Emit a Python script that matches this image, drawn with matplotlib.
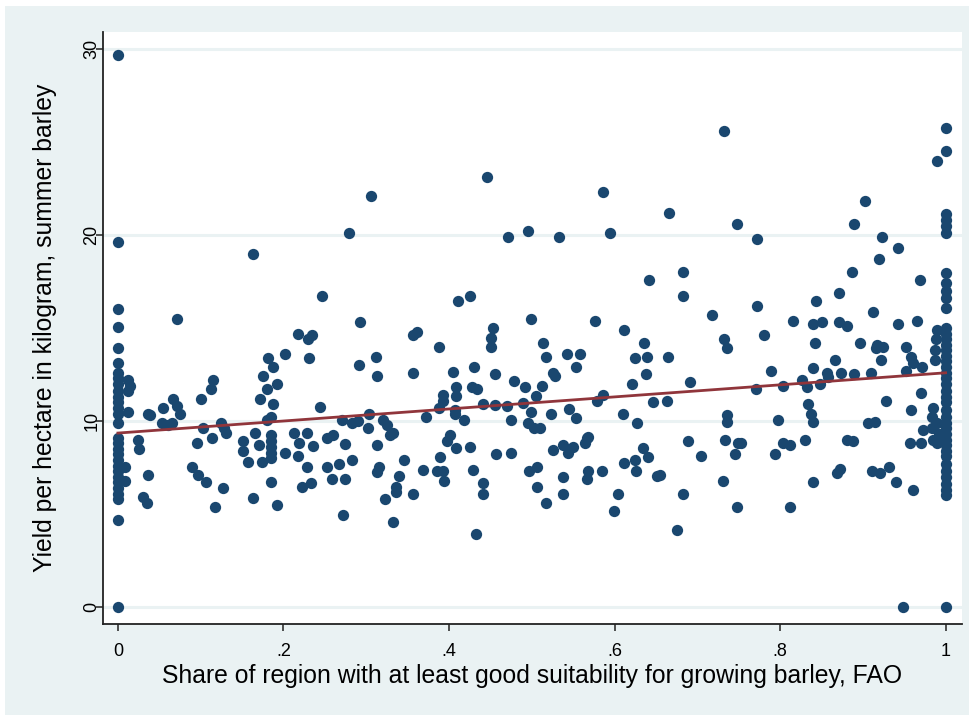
#spridningsdiagram: skörd mot andel lämplig mark, med linjär anpassning
import numpy as np
import matplotlib
matplotlib.use("Agg")
import matplotlib.pyplot as plt
from matplotlib.patches import Rectangle
from matplotlib import font_manager

#skörd för regioner med andel exakt 0 och exakt 1
yield_share0 = [29.7, 19.6, 16.0, 15.05, 13.9, 13.1, 12.6, 12.3, 12.0, 11.6, 11.3, 11.0, 10.7, 10.4,
                9.9, 9.1, 8.8, 8.5, 8.2, 7.9, 7.6, 7.3, 7.0, 6.7, 6.4, 6.1, 5.8, 4.7, 0.0]
yield_share1 = [25.75, 24.5, 21.1, 20.8, 20.5, 20.1, 17.95, 17.4, 17.0, 16.6, 16.1, 15.0, 14.7, 14.4,
                14.1, 13.8, 13.5, 13.2, 12.9, 12.6, 12.3, 12.0, 11.6, 11.3, 11.0, 10.6, 10.2, 9.9,
                9.6, 9.3, 9.0, 8.7, 8.4, 8.1, 7.7, 7.3, 7.0, 6.6, 6.3, 6.0, 0.0]

#övriga regioner (andel, skörd), uppdelade efter andel
pts_a = [(0.012, 12.2), (0.015, 11.9), (0.012, 11.6), (0.012, 10.5), (0.024, 9.0), (0.025, 8.5),
         (0.008, 7.5), (0.008, 6.8), (0.036, 7.1), (0.030, 5.9), (0.035, 5.6), (0.036, 10.4),
         (0.039, 10.3), (0.054, 10.7), (0.053, 9.9), (0.060, 9.8), (0.065, 9.9), (0.067, 11.2),
         (0.072, 10.8), (0.075, 10.4), (0.072, 15.5), (0.100, 11.2), (0.112, 11.7), (0.115, 12.2),
         (0.103, 9.6), (0.095, 8.8), (0.114, 9.1), (0.125, 9.9), (0.128, 9.6), (0.131, 9.35),
         (0.090, 7.5), (0.097, 7.1), (0.107, 6.7), (0.127, 6.4), (0.117, 5.4), (0.151, 8.9),
         (0.151, 8.4), (0.166, 9.35), (0.170, 8.7), (0.157, 7.8), (0.174, 7.8), (0.185, 9.25),
         (0.185, 8.9), (0.185, 8.6), (0.185, 8.3), (0.185, 8.0), (0.185, 6.7), (0.163, 5.85),
         (0.192, 5.5), (0.181, 13.4), (0.187, 12.9), (0.175, 12.4), (0.180, 11.7), (0.192, 12.0),
         (0.172, 11.2), (0.187, 10.9), (0.185, 10.2), (0.180, 10.05), (0.202, 13.6), (0.218, 14.7),
         (0.230, 14.4), (0.234, 14.6), (0.231, 13.4), (0.213, 9.35), (0.228, 9.35), (0.219, 8.8),
         (0.202, 8.3), (0.218, 8.1), (0.236, 8.65), (0.228, 7.5), (0.223, 6.45), (0.233, 6.65),
         (0.244, 10.75), (0.163, 19.0), (0.246, 16.7)]
pts_b = [(0.446, 23.1), (0.306, 22.1), (0.279, 20.1), (0.471, 19.9), (0.495, 20.2), (0.411, 16.45),
         (0.425, 16.7), (0.292, 15.3), (0.356, 14.6), (0.361, 14.8), (0.453, 15.0), (0.388, 14.0),
         (0.451, 14.45), (0.451, 14.0), (0.291, 13.0), (0.312, 13.45), (0.313, 12.4), (0.356, 12.6),
         (0.405, 12.65), (0.430, 12.9), (0.456, 12.5), (0.478, 12.15), (0.393, 11.4), (0.393, 11.1),
         (0.408, 11.8), (0.408, 11.35), (0.428, 11.8), (0.434, 11.7), (0.303, 10.4), (0.271, 10.05),
         (0.283, 9.9), (0.290, 10.0), (0.302, 9.6), (0.320, 10.05), (0.325, 9.8), (0.329, 9.25),
         (0.332, 9.35), (0.372, 10.2), (0.388, 10.7), (0.407, 10.6), (0.407, 10.4), (0.418, 10.05),
         (0.441, 10.9), (0.456, 10.85), (0.470, 10.8), (0.475, 10.05), (0.253, 9.1), (0.260, 9.25),
         (0.274, 8.75), (0.313, 8.7), (0.398, 8.9), (0.401, 9.25), (0.408, 8.55), (0.425, 8.6),
         (0.457, 8.2), (0.475, 8.3), (0.253, 7.5), (0.267, 7.7), (0.283, 7.9), (0.259, 6.9),
         (0.274, 6.9), (0.313, 7.25), (0.315, 7.5), (0.346, 7.9), (0.340, 7.05), (0.336, 6.45),
         (0.336, 6.2), (0.323, 5.8), (0.356, 6.1), (0.332, 4.55), (0.272, 4.95), (0.369, 7.35),
         (0.385, 7.3), (0.393, 7.3), (0.394, 6.75), (0.389, 8.05), (0.429, 7.35), (0.441, 6.65),
         (0.441, 6.1), (0.433, 3.9)]
pts_c = [(0.732, 25.6), (0.586, 22.3), (0.666, 21.2), (0.533, 19.9), (0.594, 20.1), (0.748, 20.6),
         (0.642, 17.6), (0.683, 18.0), (0.683, 16.7), (0.718, 15.7), (0.576, 15.4), (0.499, 15.5),
         (0.611, 14.9), (0.514, 14.2), (0.517, 13.45), (0.542, 13.6), (0.558, 13.6), (0.553, 12.9),
         (0.526, 12.6), (0.528, 12.4), (0.492, 11.8), (0.512, 11.9), (0.505, 11.35), (0.489, 10.95),
         (0.499, 10.5), (0.523, 10.4), (0.545, 10.65), (0.553, 10.15), (0.496, 9.9), (0.503, 9.6),
         (0.510, 9.6), (0.579, 11.1), (0.586, 11.4), (0.610, 10.4), (0.621, 12.0), (0.636, 14.2),
         (0.625, 13.4), (0.639, 13.45), (0.638, 12.5), (0.665, 13.45), (0.646, 11.0), (0.663, 11.1),
         (0.627, 9.9), (0.691, 12.1), (0.732, 14.4), (0.736, 13.9), (0.736, 10.3), (0.736, 9.95),
         (0.733, 9.0), (0.749, 8.8), (0.745, 8.2), (0.689, 8.9), (0.705, 8.1), (0.731, 6.8),
         (0.748, 5.4), (0.683, 6.1), (0.676, 4.15), (0.526, 8.45), (0.538, 8.7), (0.544, 8.3),
         (0.550, 8.6), (0.567, 9.1), (0.568, 9.15), (0.564, 8.8), (0.497, 7.3), (0.506, 7.5),
         (0.506, 6.45), (0.517, 5.6), (0.538, 7.0), (0.538, 6.1), (0.568, 7.3), (0.567, 6.9),
         (0.585, 7.3), (0.604, 6.1), (0.599, 5.15), (0.611, 7.75), (0.625, 7.9), (0.626, 7.3),
         (0.634, 8.55), (0.640, 8.05), (0.651, 7.05), (0.655, 7.1)]
pts_d = [(0.903, 21.8), (0.889, 20.6), (0.923, 19.9), (0.772, 19.8), (0.943, 19.3), (0.920, 18.7),
         (0.887, 18.0), (0.969, 17.6), (0.871, 16.9), (0.843, 16.45), (0.772, 16.2), (0.912, 15.85),
         (0.816, 15.4), (0.840, 15.2), (0.851, 15.3), (0.871, 15.3), (0.881, 15.1), (0.943, 15.2),
         (0.966, 15.4), (0.940, 6.7), (0.961, 6.3), (0.911, 7.3), (0.921, 7.2), (0.932, 7.5),
         (0.873, 7.4), (0.869, 7.2), (0.840, 6.7), (0.812, 5.4), (0.949, 0.0), (0.797, 10.05),
         (0.794, 8.2), (0.804, 8.8), (0.812, 8.7), (0.830, 9.0), (0.834, 10.9), (0.837, 10.4),
         (0.840, 9.95), (0.881, 9.0), (0.888, 8.9), (0.906, 9.9), (0.915, 9.95), (0.928, 11.1),
         (0.958, 10.6), (0.970, 11.5), (0.973, 9.5), (0.957, 8.8), (0.970, 8.8), (0.753, 8.8),
         (0.771, 11.7), (0.789, 12.7), (0.804, 11.9), (0.781, 14.6), (0.826, 12.2), (0.832, 11.8),
         (0.840, 12.85), (0.848, 12.0), (0.842, 14.2), (0.857, 12.6), (0.858, 12.35), (0.874, 12.6),
         (0.866, 13.3), (0.889, 12.5), (0.897, 14.2), (0.910, 12.6), (0.917, 14.1), (0.924, 14.0),
         (0.916, 13.9), (0.922, 13.3), (0.952, 14.0), (0.958, 13.45), (0.961, 13.1), (0.971, 12.9),
         (0.952, 12.7), (0.990, 24.0), (0.990, 14.9), (0.988, 14.4), (0.987, 13.8), (0.987, 13.3),
         (0.985, 10.7), (0.984, 10.2), (0.990, 9.9), (0.983, 9.6), (0.992, 9.3), (0.985, 9.0),
         (0.990, 8.8)]

#anpassad linje: skörd = a + b*andel
fit_a = 9.35
fit_b = 3.24

xticks = [0, 0.2, 0.4, 0.6, 0.8, 1]
xtick_labels = ["0", ".2", ".4", ".6", ".8", "1"]
yticks = [0, 10, 20, 30]

navy = "#1a476f"
maroon = "#90353b"
bg = "#eaf2f3"

#smalt typsnitt om det finns, annars vanlig Liberation Sans med större storlek
names = {f.name for f in font_manager.fontManager.ttflist}
if "Liberation Sans Narrow" in names:
    plt.rcParams["font.family"] = ["Liberation Sans Narrow", "DejaVu Sans"]
    tick_fs, lab_fs = 15, 18
else:
    plt.rcParams["font.family"] = ["Liberation Sans", "DejaVu Sans"]
    tick_fs, lab_fs = 13, 17.8

fig = plt.figure(figsize=(9.74, 7.15), dpi=100)
fig.patch.set_facecolor("white")
fig.patches.append(Rectangle((5/974, 0), 964/974, 709/715, transform=fig.transFigure,
                             facecolor=bg, edgecolor="none", zorder=-10))
ax = fig.add_axes([103/974, 91/715, 859/974, 592/715])
ax.set_zorder(1)
ax.set_facecolor("white")

#samla ihop alla punkter
mid = np.array(pts_a + pts_b + pts_c + pts_d)
x = np.concatenate([np.zeros(len(yield_share0)), mid[:, 0], np.ones(len(yield_share1))])
y = np.concatenate([yield_share0, mid[:, 1], yield_share1])

for yt in yticks:#rutnät
    ax.axhline(yt, color=bg, lw=2.2, zorder=1)
ax.scatter(x, y, s=66, color=navy, linewidths=0, zorder=3)
xl = np.array([0.0, 1.0])
ax.plot(xl, fit_a + fit_b*xl, color=maroon, lw=2, zorder=4)#linjär anpassning

ax.set_xlim(-0.018, 1.0198)
ax.set_ylim(-0.914, 30.91)
ax.set_xticks(xticks)
ax.set_xticklabels(xtick_labels)
ax.set_yticks(yticks)
ax.set_yticklabels([str(v) for v in yticks], rotation=90, va="center")

for s in ["top", "right"]:
    ax.spines[s].set_visible(False)
for s in ["left", "bottom"]:
    ax.spines[s].set_color("#222222")
    ax.spines[s].set_linewidth(1.3)
ax.tick_params(axis="both", direction="out", length=5, width=1.1, color="#222222",
               labelsize=tick_fs, labelcolor="black")
ax.tick_params(axis="y", pad=-3)
ax.tick_params(axis="x", pad=9)

ax.set_xlabel("Share of region with at least good suitability for growing barley, FAO",
              fontsize=lab_fs)
ax.set_ylabel("Yield per hectare in kilogram, summer barley", fontsize=lab_fs)
ax.xaxis.set_label_coords(0.5, (624 - 664)/592)
ax.yaxis.set_label_coords((57 - 103)/859, 0.5)

fig.savefig("out.png", dpi=100, facecolor=fig.get_facecolor())
